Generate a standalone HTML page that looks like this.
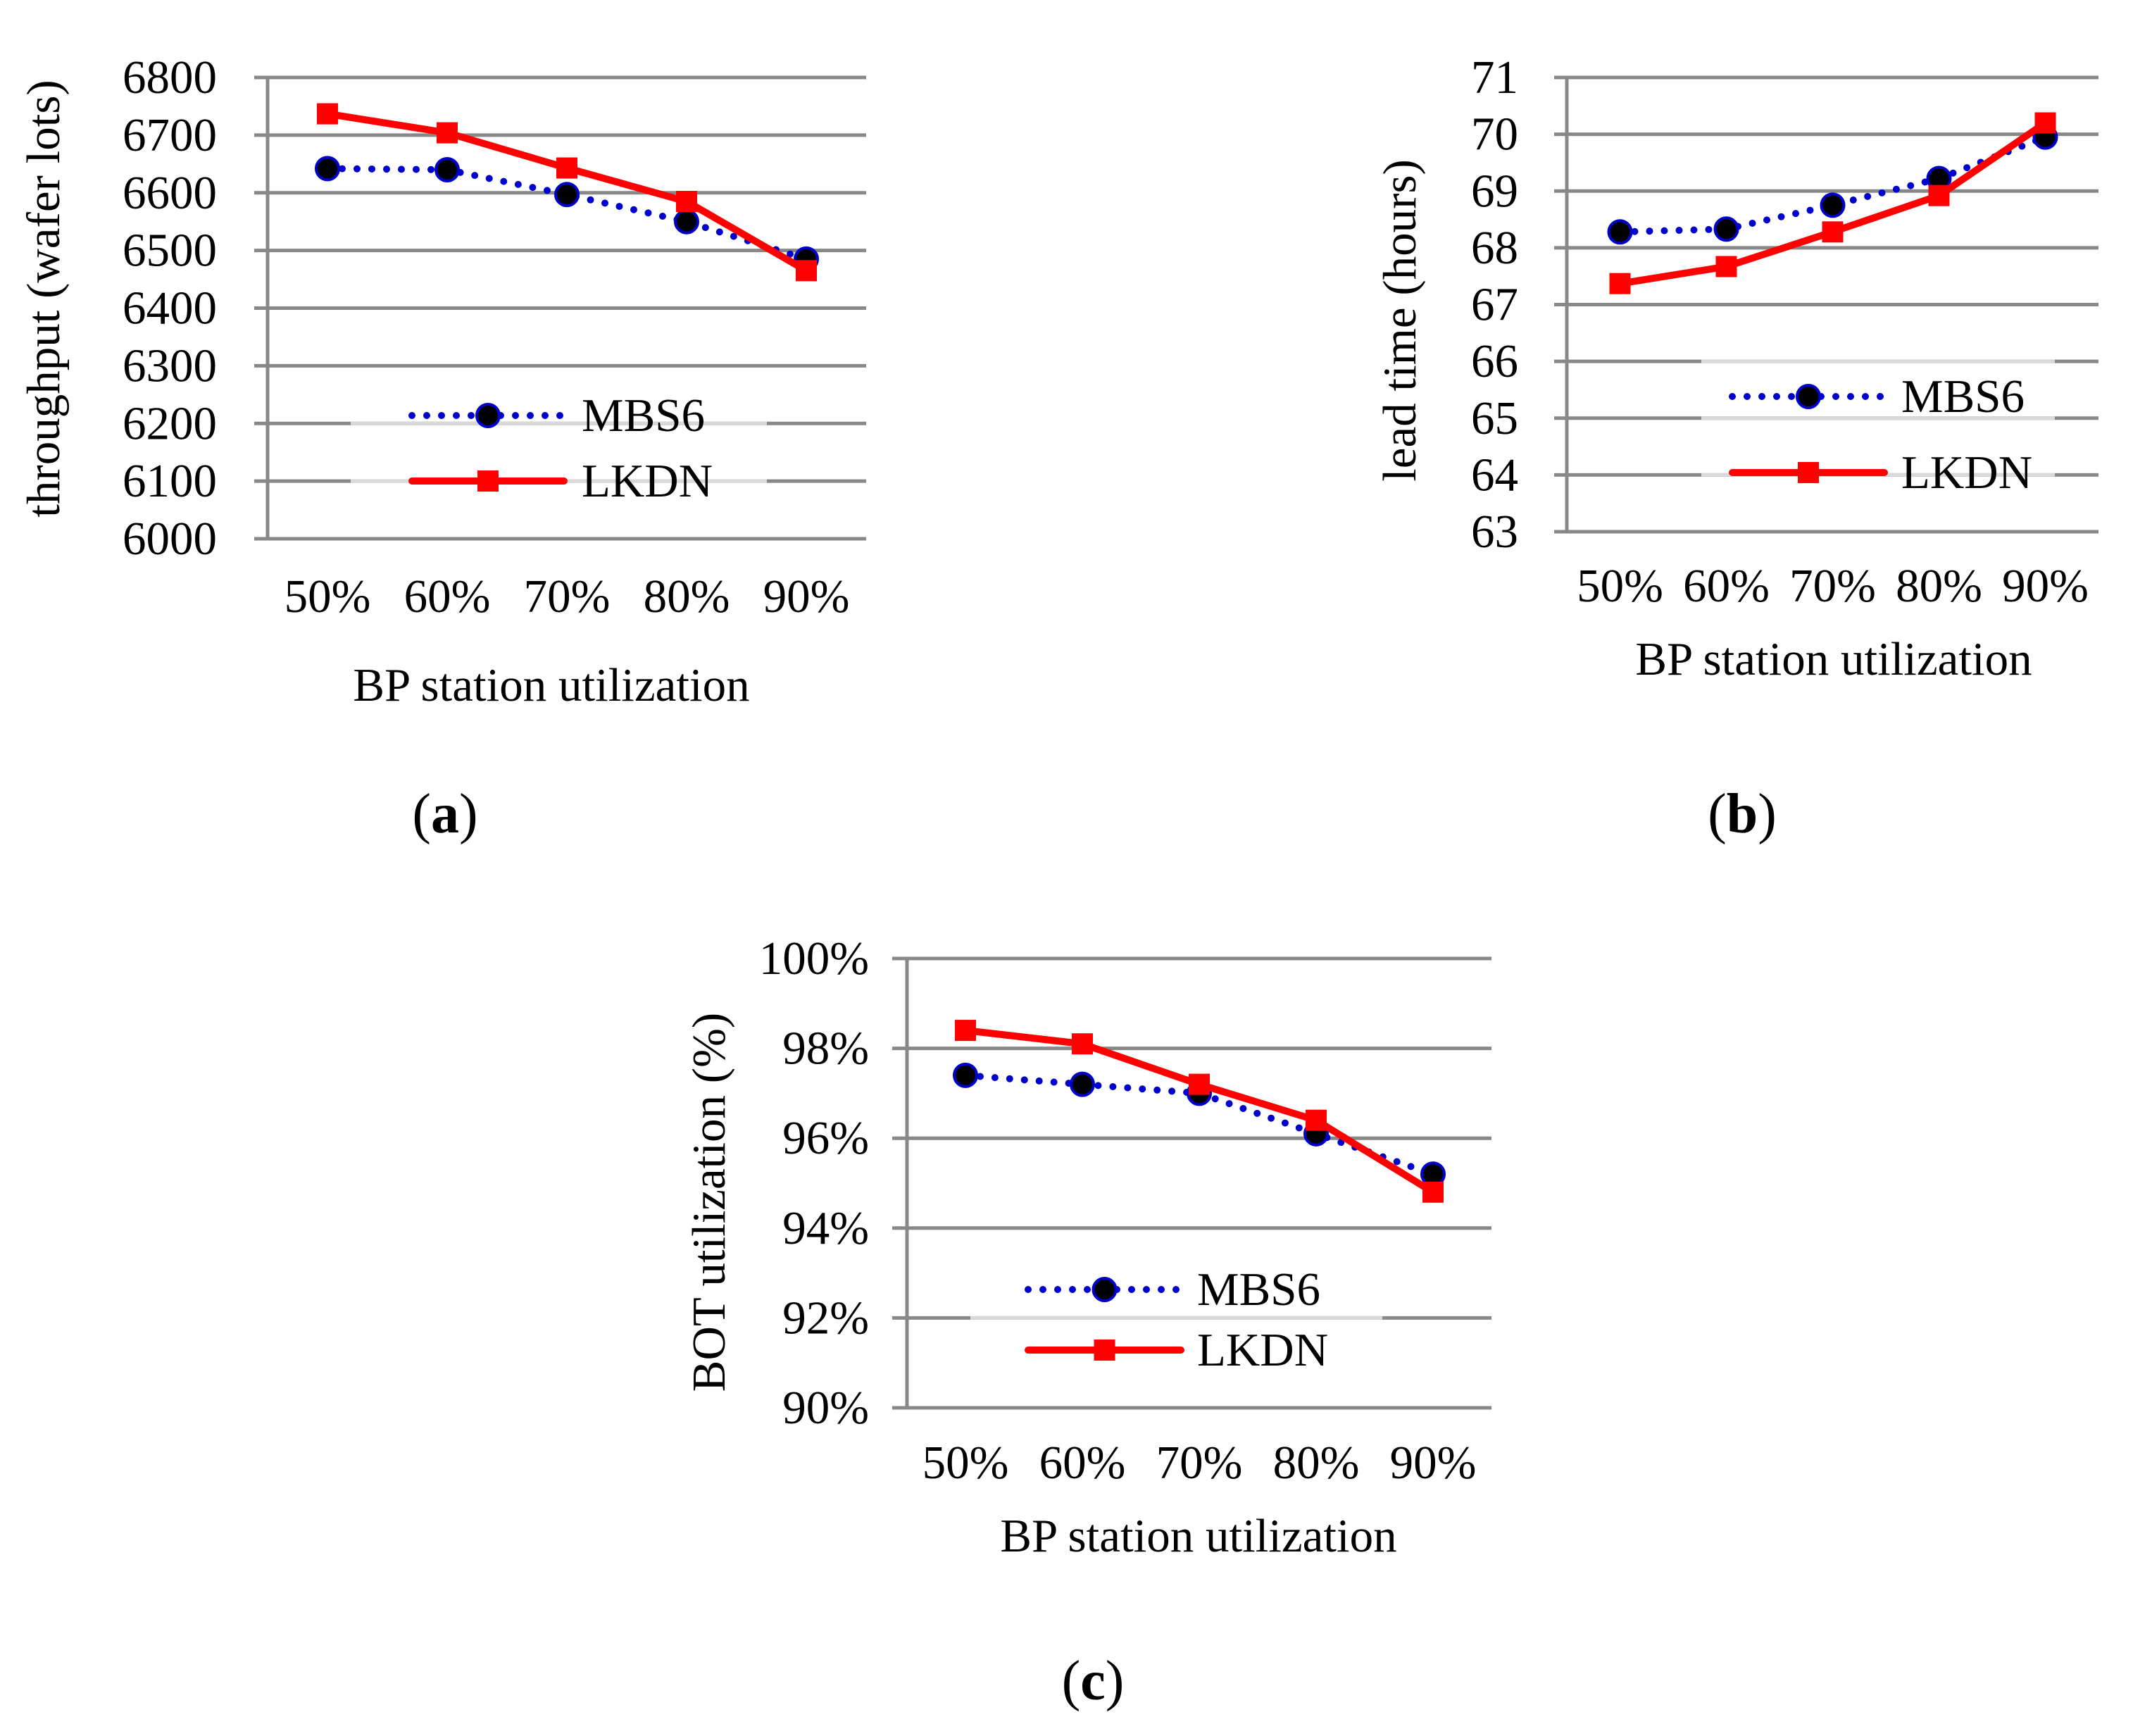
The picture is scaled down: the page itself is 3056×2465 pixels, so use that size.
<!DOCTYPE html>
<html><head><meta charset="utf-8"><style>
html,body{margin:0;padding:0;background:#fff;}
svg{display:block;font-family:"Liberation Serif","Times New Roman",serif;}
</style></head><body>
<svg id="fig" width="3056" height="2465" viewBox="0 0 3056 2465" xmlns="http://www.w3.org/2000/svg"></svg>
<script>
const categories = ["50%","60%","70%","80%","90%"];
const seriesNames = ["MBS6","LKDN"];
const throughputMBS6 = [6642, 6640, 6597, 6550, 6485];
const throughputLKDN = [6737, 6704, 6643, 6585, 6465];
const throughputTicks = [6000,6100,6200,6300,6400,6500,6600,6700,6800];
const leadMBS6 = [68.28, 68.33, 68.75, 69.22, 69.95];
const leadLKDN = [67.37, 67.67, 68.28, 68.92, 70.2];
const leadTicks = [63,64,65,66,67,68,69,70,71];
const botMBS6 = [97.4, 97.2, 97.0, 96.1, 95.2];
const botLKDN = [98.4, 98.1, 97.2, 96.4, 94.8];
const botTicks = [90,92,94,96,98,100];

const NS = "http://www.w3.org/2000/svg";
const fig = document.getElementById("fig");
const FS = 67;
function mk(tag, attrs, parent){
  const e = document.createElementNS(NS, tag);
  for (const k in attrs) e.setAttribute(k, attrs[k]);
  (parent||fig).appendChild(e);
  return e;
}

function chart(c){
  const g = mk("g", {});
  
  
  const yMin = c.ticks[0], yMax = c.ticks[c.ticks.length-1];
  const yS = v => c.bottom - (v - yMin) / (yMax - yMin) * (c.bottom - c.top);
  const band = (c.right - c.axisX) / categories.length;
  const xS = i => c.axisX + band * (i + 0.5);
  c.ticks.forEach((t) => {
    const y = yS(t);
    const gl = mk("line", {x1:c.gridLeft, x2:c.right, y1:y, y2:y, stroke:"#888888", "stroke-width":5}, g);
    
    
    if (c.lightTicks.includes(t)) {
      const lg = mk("line", {x1:c.boxL, x2:c.boxR, y1:y, y2:y, stroke:"#d9d9d9", "stroke-width":5}, g);
      
      
    }
    const tl = mk("text", {x:c.labelRight, y:y, "text-anchor":"end", "dominant-baseline":"central", "font-size":FS, fill:"#000"}, g);
    tl.textContent = c.fmt(t);
    
    
  });
  const ax = mk("line", {x1:c.axisX, x2:c.axisX, y1:c.top-2, y2:c.bottom+2, stroke:"#888888", "stroke-width":5}, g);
  
  
  categories.forEach((cat, i) => {
    const t = mk("text", {x:xS(i), y:c.xTickY, "text-anchor":"middle", "dominant-baseline":"central", "font-size":FS}, g);
    t.textContent = cat;
    
    
  });
  const xt = mk("text", {x:c.xTitleX, y:c.xTitleY, "text-anchor":"middle", "dominant-baseline":"central", "font-size":FS}, g);
  xt.textContent = "BP station utilization";
  
  
  const yt = mk("text", {x:0, y:0, transform:`translate(${c.yTitleX},${c.yTitleY}) rotate(-90)`, "text-anchor":"middle", "dominant-baseline":"central", "font-size":FS}, g);
  yt.textContent = c.yTitle;
  
  
  const pl = mk("text", {x:c.panelX, y:c.panelY, "text-anchor":"middle", "dominant-baseline":"central", "font-size":80}, g);
  pl.innerHTML = '(<tspan font-weight="bold">' + c.panel + '</tspan>)';
  
  
  const pts1 = c.s1.map((v,i)=>xS(i)+","+yS(v)).join(" ");
  const l1 = mk("polyline", {points:pts1, fill:"none", stroke:"#0000cc", "stroke-width":10, "stroke-linecap":"round", "stroke-dasharray":"0 21"}, g);
  
  
  c.s1.forEach((v,i)=>{
    const m = mk("circle", {cx:xS(i), cy:yS(v), r:16, fill:"#000", stroke:"#0000cc", "stroke-width":4}, g);
    
    
  });
  const pts2 = c.s2.map((v,i)=>xS(i)+","+yS(v)).join(" ");
  const l2 = mk("polyline", {points:pts2, fill:"none", stroke:"#ff0000", "stroke-width":10, "stroke-linejoin":"round"}, g);
  
  
  c.s2.forEach((v,i)=>{
    const m = mk("rect", {x:xS(i)-15, y:yS(v)-15, width:30, height:30, fill:"#ff0000"}, g);
    
    
  });
  const lg = mk("g", {}, g);
  
  
  const mid = (c.legL + c.legR) / 2;
  const e1 = mk("line", {x1:c.legL, x2:c.legR, y1:c.leg1Y, y2:c.leg1Y, stroke:"#0000cc", "stroke-width":10, "stroke-linecap":"round", "stroke-dasharray":"0 21"}, lg);
  
  
  const e1m = mk("circle", {cx:mid, cy:c.leg1Y, r:16, fill:"#000", stroke:"#0000cc", "stroke-width":4}, lg);
  
  
  const t1 = mk("text", {x:c.legText, y:c.leg1Y, "dominant-baseline":"central", "font-size":FS}, lg);
  t1.textContent = seriesNames[0];
  
  
  const e2 = mk("line", {x1:c.legL, x2:c.legR, y1:c.leg2Y, y2:c.leg2Y, stroke:"#ff0000", "stroke-width":10, "stroke-linecap":"round"}, lg);
  
  
  const e2m = mk("rect", {x:mid-15, y:c.leg2Y-15, width:30, height:30, fill:"#ff0000"}, lg);
  
  
  const t2 = mk("text", {x:c.legText, y:c.leg2Y, "dominant-baseline":"central", "font-size":FS}, lg);
  t2.textContent = seriesNames[1];
  
  
}

chart({name:"throughput-chart", ticks:throughputTicks, fmt:t=>String(t), s1:throughputMBS6, s2:throughputLKDN,
  top:110, bottom:765, gridLeft:361, axisX:380, right:1230, labelRight:308,
  xTickY:847, xTitleX:783, xTitleY:973, yTitleX:62, yTitleY:424, yTitle:"throughput (wafer lots)",
  panel:"a", panelX:632, panelY:1156, lightTicks:[6100,6200], boxL:498, boxR:1089,
  legL:585, legR:801, legText:826, leg1Y:590, leg2Y:683});
chart({name:"lead-time-chart", ticks:leadTicks, fmt:t=>String(t), s1:leadMBS6, s2:leadLKDN,
  top:110, bottom:755, gridLeft:2207, axisX:2225, right:2980, labelRight:2156,
  xTickY:832, xTitleX:2604, xTitleY:936, yTitleX:1988, yTitleY:455, yTitle:"lead time (hours)",
  panel:"b", panelX:2474, panelY:1156, lightTicks:[64,65,66], boxL:2416, boxR:2918,
  legL:2460, legR:2676, legText:2700, leg1Y:563, leg2Y:671});
chart({name:"bot-utilization-chart", ticks:botTicks, fmt:t=>t+"%", s1:botMBS6, s2:botLKDN,
  top:1361, bottom:1999, gridLeft:1267, axisX:1288, right:2118, labelRight:1234,
  xTickY:2077, xTitleX:1702, xTitleY:2181, yTitleX:1007, yTitleY:1707, yTitle:"BOT utilization (%)",
  panel:"c", panelX:1552, panelY:2387, lightTicks:[92], boxL:1378, boxR:1963,
  legL:1460, legR:1677, legText:1700, leg1Y:1831, leg2Y:1917});
</script>
</body></html>
